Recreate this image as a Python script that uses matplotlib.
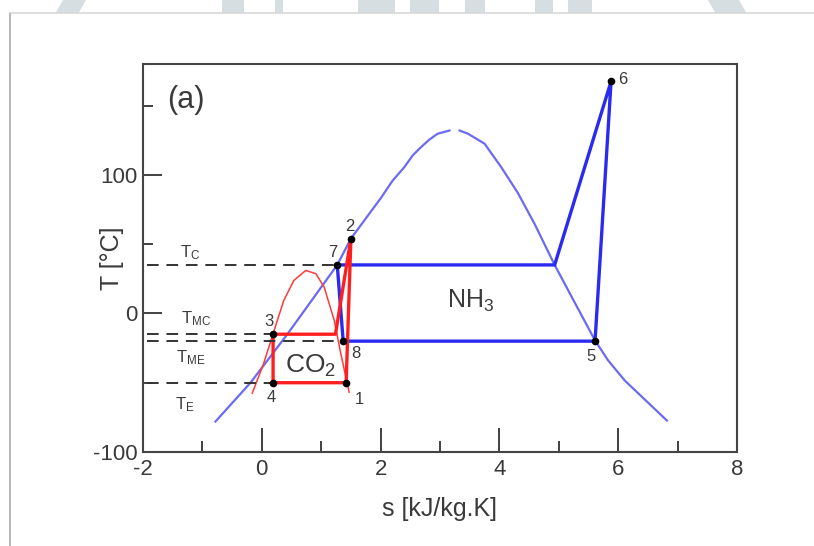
import numpy as np
import matplotlib
matplotlib.use('Agg')
import matplotlib.pyplot as plt
from matplotlib.patches import Rectangle, Polygon

plt.rcParams['font.family'] = ['Liberation Sans', 'DejaVu Sans']
plt.rcParams['mathtext.default'] = 'regular'
plt.rcParams['axes.unicode_minus'] = False

# NH3 saturation dome, split at the critical point
nh3_liq_s = [-0.78, -0.19, 0.43, 1.27, 1.50, 2.00, 2.20, 2.40, 2.54, 2.68, 2.82, 2.96, 3.16]
nh3_liq_T = [-78, -50, -15, 35, 54, 83, 95.7, 105.6, 114, 120, 125.4, 129.7, 132]
nh3_vap_s = [3.33, 3.47, 3.75, 4.03, 4.31, 4.59, 4.93, 5.27, 5.61, 5.83, 6.11, 6.82]
nh3_vap_T = [132, 129.7, 122.5, 105.6, 87, 64.8, 35, 7.7, -19.5, -33.9, -48.4, -77.3]

# CO2 saturation dome
co2_dome_s = [-0.16, 0.03, 0.19, 0.37, 0.54, 0.74, 0.91, 1.05, 1.22, 1.33, 1.47]
co2_dome_T = [-57.5, -36.3, -14.7, 9.4, 23.8, 31, 28.7, 19.0, -5.1, -29.1, -56.8]

# cycle state points
T_C, T_MC, T_ME, T_E = 35, -15, -20, -50
pts = {'1': (1.42, -50), '2': (1.50, 54), '3': (0.19, -15), '4': (0.19, -50),
       '5': (5.61, -20), '6': (5.88, 167.5), '7': (1.27, 35), '8': (1.37, -20)}
co2_vap_mc = (1.24, -15)   # CO2 saturated vapour at T_MC
nh3_vap_c = (4.93, 35)     # NH3 saturated vapour at T_C

co2_cycle = ['4', '1', '2', co2_vap_mc, '3', '4']
nh3_cycle = ['8', '5', '6', nh3_vap_c, '7', '8']

txt = '#3a3a3a'

fig = plt.figure(figsize=(8.14, 5.46), dpi=100)

# bits of the watermark peeking above the card (pixel x ranges, top strip)
W, H = 814.0, 546.0
wm = [(55, 78, 'diag_r'), (222, 244, 'bar'), (275, 283, 'bar'), (358, 395, 'bar'),
      (410, 439, 'bar'), (465, 485, 'bar'), (535, 553, 'bar'), (568, 592, 'bar'),
      (716, 747, 'diag_l')]
for x0, x1, kind in wm:
    if kind == 'diag_r':
        xs = [x0 + 8, x1 + 8, x1, x0]
    elif kind == 'diag_l':
        xs = [x0 - 8, x1 - 8, x1, x0]
    else:
        xs = [x0, x1, x1, x0]
    ys = [0, 0, 14, 14]
    fig.patches.append(Polygon([(x / W, 1 - y / H) for x, y in zip(xs, ys)],
                               closed=True, transform=fig.transFigure,
                               facecolor='#d6dee1', edgecolor='none', zorder=0))
fig.patches.append(Rectangle((10/814, -0.1), 1.2, 1.1 - 13/546, transform=fig.transFigure,
                             facecolor='white', edgecolor='#d8d8d8', lw=1.2, zorder=1))
fig.patches.append(Rectangle((9/814, -0.1), 2/814, 1.1 - 13/546, transform=fig.transFigure,
                             facecolor='#b8b8b8', edgecolor='none', zorder=1.5))

ax = fig.add_axes([143/814, 1 - 452/546, 594/814, 388/546])
ax.set_zorder(2)

def xy(p):
    return pts[p] if isinstance(p, str) else p

# domes
ax.plot(nh3_liq_s, nh3_liq_T, color='#6b6bf2', lw=1.6)
ax.plot(nh3_vap_s, nh3_vap_T, color='#6b6bf2', lw=1.6)
ax.plot(co2_dome_s, co2_dome_T, color='#ff3a3a', lw=1.1)

# cycles
cs = [xy(p)[0] for p in nh3_cycle]
ct = [xy(p)[1] for p in nh3_cycle]
ax.plot(cs, ct, color='#2a2af0', lw=2.4, solid_joinstyle='miter')
cs = [xy(p)[0] for p in co2_cycle]
ct = [xy(p)[1] for p in co2_cycle]
ax.plot(cs, ct, color='#ff1f1f', lw=2.4)

# dashed temperature levels
for T, p in [(T_C, '7'), (T_MC, '3'), (T_ME, '8'), (T_E, '4')]:
    ax.plot([-1.93, pts[p][0]], [T, T], color='#333333', lw=1.4, dashes=(6, 4))

# state points
ax.plot([v[0] for v in pts.values()], [v[1] for v in pts.values()], 'o',
        color='black', ms=4.5, zorder=5)

lab_off = {'1': (0.22, -12), '2': (-0.02, 9), '3': (-0.07, 9), '4': (-0.03, -11),
           '5': (-0.06, -11), '6': (0.19, 1.5), '7': (-0.08, 9), '8': (0.21, -9)}
for k, (dx, dy) in lab_off.items():
    ax.text(pts[k][0] + dx, pts[k][1] + dy, k, ha='center', va='center',
            fontsize=12, color=txt, zorder=6)

ax.text(-1.2, 44, r'T$_{C}$', ha='center', va='center', fontsize=12, color=txt)
ax.text(-1.1, -3.5, r'T$_{MC}$', ha='center', va='center', fontsize=12, color=txt)
ax.text(-1.2, -32, r'T$_{ME}$', ha='center', va='center', fontsize=12, color=txt)
ax.text(-1.3, -66, r'T$_{E}$', ha='center', va='center', fontsize=12, color=txt)

ax.text(-1.6, 154, '(a)', ha='left', va='center', fontsize=22, color=txt)
ax.text(3.52, 9, r'NH$_3$', ha='center', va='center', fontsize=18, color=txt)
ax.text(0.82, -38, r'CO$_2$', ha='center', va='center', fontsize=19, color=txt)

ax.set_xlim(-2, 8)
ax.set_ylim(-100, 180)
ax.set_xticks([-2, 0, 2, 4, 6, 8])
ax.set_xticks([-1, 1, 3, 5, 7], minor=True)
ax.set_yticks([-100, 0, 100])
ax.set_yticks([-50, 50, 150], minor=True)
ax.tick_params(which='both', direction='in', colors='#333333', labelcolor=txt,
               labelsize=16, width=1.3, top=False, right=False)
ax.tick_params(axis='x', which='major', length=17, pad=5)
ax.tick_params(axis='x', which='minor', length=8)
ax.tick_params(axis='y', which='major', length=14, pad=4)
ax.tick_params(axis='y', which='minor', length=7)
for sp in ax.spines.values():
    sp.set_color('#444444')
    sp.set_linewidth(1.5)

ax.set_xlabel('s [kJ/kg.K]', fontsize=18, color=txt)
ax.set_ylabel('T [°C]', fontsize=18, color=txt)
ax.xaxis.set_label_coords(0.5, -0.115)
ax.yaxis.set_label_coords(-0.032, 0.5)

fig.savefig('out.png', dpi=100)
